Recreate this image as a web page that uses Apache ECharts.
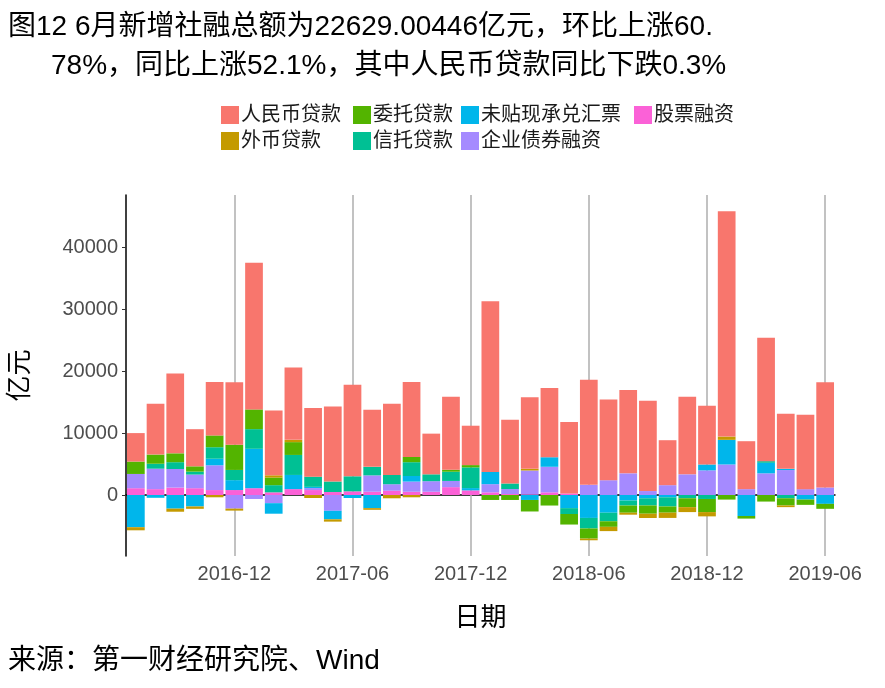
<!DOCTYPE html>
<html><head><meta charset="utf-8">
<script src="https://cdn.jsdelivr.net/npm/echarts@6/dist/echarts.min.js"></script>
<style>html,body{margin:0;padding:0;background:#fff}#c{width:885px;height:688px}</style>
</head><body><div id="c"></div>
<script>
const months = ['2016-07','2016-08','2016-09','2016-10','2016-11','2016-12','2017-01','2017-02','2017-03','2017-04','2017-05','2017-06','2017-07','2017-08','2017-09','2017-10','2017-11','2017-12','2018-01','2018-02','2018-03','2018-04','2018-05','2018-06','2018-07','2018-08','2018-09','2018-10','2018-11','2018-12','2019-01','2019-02','2019-03','2019-04','2019-05','2019-06'];
const tickMonths = ['2016-12','2017-06','2017-12','2018-06','2018-12','2019-06'];
const stockFin = [1100,950,1200,1100,800,800,1100,430,950,800,480,590,530,690,530,530,1270,750,430,160,100,430,250,0,0,0,0,0,0,0,0,0,0,0,0,0];
const bondFin = [2300,3300,3000,2200,4000,-2200,-640,-1320,0,320,-2550,0,2640,1050,1640,1700,1000,0,1320,800,3860,4130,0,1640,2390,3500,640,1590,3340,3980,4930,950,3500,4030,950,1220];
const billFin = [-5200,-450,-2200,-1850,1060,1600,6360,-1700,2290,200,-1380,-480,-2120,0,900,0,0,370,1970,0,-800,1540,-2120,-3700,-2860,-900,-530,-370,0,950,3980,-3390,1700,200,-740,-1430];
const trustLoan = [0,800,1100,480,1860,1650,3180,1160,3230,1640,1700,2430,1380,1490,2230,1110,1490,3340,0,900,0,0,-950,-1700,-1380,-800,-1160,-1480,-530,-640,0,0,270,-530,0,0];
const entrustLoan = [2000,1480,1430,850,1900,4070,3180,1220,2070,0,0,0,0,0,840,0,320,370,-800,-800,-1860,-1700,-1700,-1640,-900,-1160,-1330,-1000,-1430,-2120,-740,-420,-1060,-1160,-850,-800];
const fxLoan = [-500,0,-500,-380,-370,-320,0,370,370,-480,-370,0,-270,-530,-370,0,0,0,0,0,270,0,0,-270,-690,-320,-690,-850,-800,-690,530,0,0,-270,0,0];
const rmbLoan = [4600,8200,12900,6000,8640,10100,23700,10450,11700,11100,12100,14800,9220,11500,12100,6570,11800,6360,27560,10300,11560,11180,11560,16960,13040,13460,14580,7260,12510,9490,36400,7740,19920,8900,12030,17000];
const yTicks = [0,10000,20000,30000,40000];

const font = "'Liberation Sans','Noto Sans CJK SC',sans-serif";
const defs = [
  ['股票融资', stockFin, '#FB61D7'],
  ['企业债券融资', bondFin, '#A58AFF'],
  ['未贴现承兑汇票', billFin, '#00B6EB'],
  ['信托贷款', trustLoan, '#00C094'],
  ['委托贷款', entrustLoan, '#53B400'],
  ['外币贷款', fxLoan, '#C49A00'],
  ['人民币贷款', rmbLoan, '#F8766D']
];
const series = defs.map(([n, d, c]) => ({
  name: n, type: 'bar', stack: 'all', data: d, barCategoryGap: '10%',
  itemStyle: {color: c}, emphasis: {disabled: true}, zlevel: 1
}));
series.push({
  type: 'line', data: [], silent: true, zlevel: 0,
  markLine: {symbol: 'none', silent: true, label: {show: false},
    lineStyle: {color: '#b3b3b3', width: 1.6, type: 'solid'},
    data: tickMonths.map(m => ({xAxis: m}))}
});
const legendCols = [
  {left: 216, data: ['人民币贷款', '外币贷款']},
  {left: 348, data: ['委托贷款', '信托贷款']},
  {left: 456, data: ['未贴现承兑汇票', '企业债券融资']},
  {left: 629, data: ['股票融资']}
];
const colorOf = Object.fromEntries(defs.map(d => [d[0], d[2]]));
const tStyle = {fontSize: 28, fontWeight: 'normal', color: '#000', fontFamily: font};
const chart = echarts.init(document.getElementById('c'));
chart.setOption({
  animation: false,
  textStyle: {fontFamily: font},
  title: [
    {text: '图12 6月新增社融总额为22629.00446亿元，环比上涨60.', left: 3, top: 8, textStyle: tStyle},
    {text: '78%，同比上涨52.1%，其中人民币贷款同比下跌0.3%', left: 46, top: 47, textStyle: tStyle},
    {text: '来源：第一财经研究院、Wind', left: 3, top: 642, textStyle: tStyle}
  ],
  legend: legendCols.map(c => ({
    left: c.left, top: 100, orient: 'vertical', itemGap: 6, itemWidth: 18, itemHeight: 18,
    icon: 'rect', textStyle: {fontSize: 20, color: '#1a1a1a', fontFamily: font, padding: [0, 0, 0, -3]},
    data: c.data.map(n => ({name: n, itemStyle: {color: colorOf[n]}})), selectedMode: false
  })),
  grid: {left: 115, right: 50, top: 195, bottom: 132},
  xAxis: {
    type: 'category', data: months,
    name: '日期', nameLocation: 'middle', nameGap: 50,
    nameTextStyle: {fontSize: 26, color: '#000', fontFamily: font},
    axisLine: {lineStyle: {color: '#000', width: 1.5}},
    axisTick: {alignWithLabel: true, interval: (i, v) => tickMonths.includes(v), length: 4, lineStyle: {color: '#333'}},
    axisLabel: {interval: (i, v) => tickMonths.includes(v), fontSize: 20, color: '#4d4d4d', margin: 8},
    splitLine: {show: false}
  },
  yAxis: {
    type: 'value', min: -9850, max: 48450,
    name: '亿元', nameLocation: 'middle', nameGap: 92, nameRotate: 90,
    nameTextStyle: {fontSize: 26, color: '#000', fontFamily: font},
    axisLine: {show: true, lineStyle: {color: '#000', width: 1.5}},
    axisTick: {show: true, customValues: yTicks, length: 4, lineStyle: {color: '#333'}},
    axisLabel: {customValues: yTicks, fontSize: 20, color: '#4d4d4d', margin: 8, formatter: v => String(v)},
    splitLine: {show: false}
  },
  series: series
});
</script></body></html>
